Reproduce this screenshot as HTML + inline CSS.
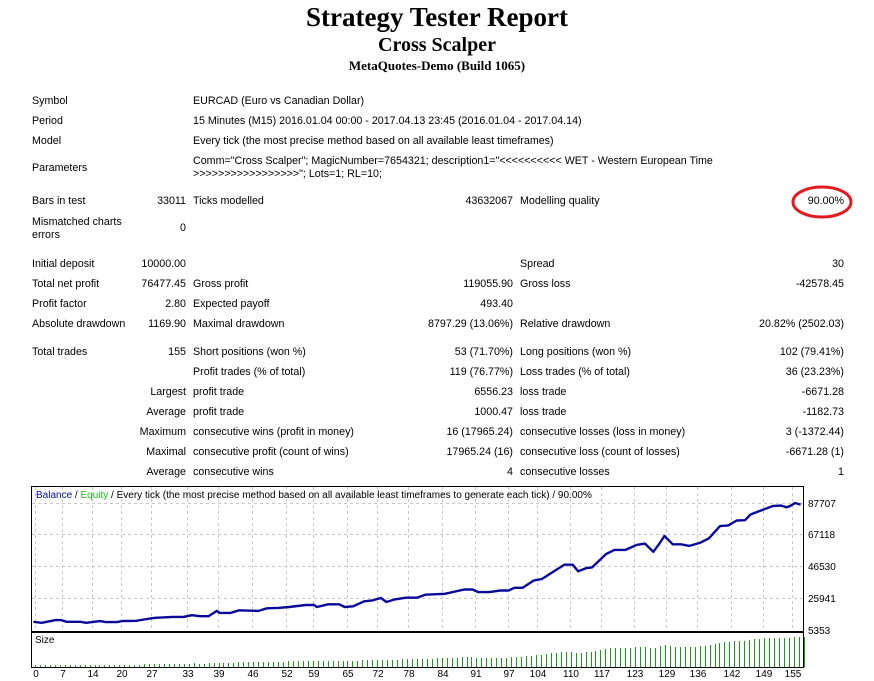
<!DOCTYPE html>
<html><head><meta charset="utf-8">
<style>
body{margin:0;width:874px;height:681px;background:#fff;position:relative;overflow:hidden;font-family:"Liberation Sans",sans-serif;font-size:10.7px;color:#000}
.t{position:absolute;white-space:nowrap;line-height:13px}
.r{text-align:right}
.h{position:absolute;left:0;width:874px;text-align:center;font-family:"Liberation Serif",serif;font-weight:bold;white-space:nowrap}
</style></head><body>
<div class="h" style="top:2px;font-size:27px;line-height:30px">Strategy Tester Report</div>
<div class="h" style="top:34px;font-size:20px;line-height:22px">Cross Scalper</div>
<div class="h" style="top:58px;font-size:13px;line-height:15px">MetaQuotes-Demo (Build 1065)</div>
<div id="tbl"></div>
<svg style="position:absolute;left:0;top:0" width="874" height="681">
<ellipse cx="822" cy="202" rx="29" ry="15" fill="none" stroke="#e21b23" stroke-width="3"/>
<g id="ch"></g>
</svg>
<script>
var T=document.getElementById('tbl'),h='';
function L(x,y,s){h+='<div class="t" style="left:'+x+'px;top:'+(y-6)+'px">'+s+'</div>';}
function R(x,y,s){h+='<div class="t r" style="right:'+(874-x)+'px;top:'+(y-6)+'px">'+s+'</div>';}
L(32,101,'Symbol');L(193,101,'EURCAD (Euro vs Canadian Dollar)');
L(32,121,'Period');L(193,121,'15 Minutes (M15) 2016.01.04 00:00 - 2017.04.13 23:45 (2016.01.04 - 2017.04.14)');
L(32,141,'Model');L(193,141,'Every tick (the most precise method based on all available least timeframes)');
L(32,168,'Parameters');L(193,161,'Comm="Cross Scalper"; MagicNumber=7654321; description1="&lt;&lt;&lt;&lt;&lt;&lt;&lt;&lt;&lt;&lt; WET - Western European Time');
L(193,174,'&gt;&gt;&gt;&gt;&gt;&gt;&gt;&gt;&gt;&gt;&gt;&gt;&gt;&gt;&gt;&gt;&gt;"; Lots=1; RL=10;');
L(32,201,'Bars in test');R(186,201,'33011');L(193,201,'Ticks modelled');R(513,201,'43632067');L(520,201,'Modelling quality');R(844,201,'90.00%');
L(32,222,'Mismatched charts');L(32,235,'errors');R(186,228,'0');
L(32,264,'Initial deposit');R(186,264,'10000.00');L(520,264,'Spread');R(844,264,'30');
L(32,284,'Total net profit');R(186,284,'76477.45');L(193,284,'Gross profit');R(513,284,'119055.90');L(520,284,'Gross loss');R(844,284,'-42578.45');
L(32,304,'Profit factor');R(186,304,'2.80');L(193,304,'Expected payoff');R(513,304,'493.40');
L(32,324,'Absolute drawdown');R(186,324,'1169.90');L(193,324,'Maximal drawdown');R(513,324,'8797.29 (13.06%)');L(520,324,'Relative drawdown');R(844,324,'20.82% (2502.03)');
L(32,352,'Total trades');R(186,352,'155');L(193,352,'Short positions (won %)');R(513,352,'53 (71.70%)');L(520,352,'Long positions (won %)');R(844,352,'102 (79.41%)');
L(193,372,'Profit trades (% of total)');R(513,372,'119 (76.77%)');L(520,372,'Loss trades (% of total)');R(844,372,'36 (23.23%)');
R(186,392,'Largest');L(193,392,'profit trade');R(513,392,'6556.23');L(520,392,'loss trade');R(844,392,'-6671.28');
R(186,412,'Average');L(193,412,'profit trade');R(513,412,'1000.47');L(520,412,'loss trade');R(844,412,'-1182.73');
R(186,432,'Maximum');L(193,432,'consecutive wins (profit in money)');R(513,432,'16 (17965.24)');L(520,432,'consecutive losses (loss in money)');R(844,432,'3 (-1372.44)');
R(186,452,'Maximal');L(193,452,'consecutive profit (count of wins)');R(513,452,'17965.24 (16)');L(520,452,'consecutive loss (count of losses)');R(844,452,'-6671.28 (1)');
R(186,472,'Average');L(193,472,'consecutive wins');R(513,472,'4');L(520,472,'consecutive losses');R(844,472,'1');
T.innerHTML=h;
var g='';
g+='<rect x="31.5" y="486.5" width="772" height="145" fill="#fff" stroke="#000"/>';
g+='<rect x="31.5" y="632.5" width="772" height="35" fill="#fff" stroke="#000"/>';
var xl=[0,7,14,20,27,33,39,46,52,59,65,72,78,84,91,97,104,110,117,123,129,136,142,149,155];
var xs=[35,62,92,121,151,187,218,252,286,313,347,377,408,442,475,508,537,570,601,634,666,697,731,763,792];
for(var i=0;i<xs.length;i++){g+='<line x1="'+(xs[i]+.5)+'" y1="487" x2="'+(xs[i]+.5)+'" y2="631" stroke="#c8c8c8" stroke-dasharray="3,3"/>';
g+='<text x="'+(xs[i]+1)+'" y="677" font-size="10">'+xl[i]+'</text>'.replace('<text','<text');}
g=g.replace(/<text x="([\d.]+)" y="677" font-size="10">/g,'<text x="$1" y="677" font-size="10" text-anchor="middle">');
var yl=[[503,'87707'],[534,'67118'],[566,'46530'],[598,'25941'],[630,'5353']];
for(i=0;i<yl.length;i++){if(i<4)g+='<line x1="32" y1="'+(yl[i][0]+.5)+'" x2="803" y2="'+(yl[i][0]+.5)+'" stroke="#c8c8c8" stroke-dasharray="3,3"/>';
g+='<text x="808" y="'+(yl[i][0]+4)+'" font-size="10">'+yl[i][1]+'</text>';}
var p=[60,425,75,428,100,420,110,420,120,425,145,425,155,428,180,423,190,426,210,426,220,423,245,422,270,415,280,413,310,410,330,410,345,405,360,408,375,408,390,392,395,398,415,398,430,390,465,392,480,384,500,383,520,380,550,374,565,374,570,380,590,372,610,372,620,380,635,378,655,363,670,360,685,353,695,365,710,357,730,352,750,352,765,343,800,340,835,327,850,327,860,335,880,335,900,330,915,330,925,322,940,322,960,300,975,295,1000,268,1015,252,1030,252,1040,272,1055,262,1065,260,1090,220,1105,207,1125,207,1145,192,1160,188,1175,213,1185,190,1195,165,1210,190,1225,190,1240,195,1260,185,1275,172,1295,135,1310,133,1325,118,1340,117,1350,100,1365,90,1390,74,1405,73,1415,78,1420,75,1430,65,1440,70];
var X=[],Y=[],pts='';
for(i=0;i<p.length;i+=2){X.push(p[i]*0.556);Y.push(503+(p[i+1]-65)*0.33);pts+=(p[i]*0.556).toFixed(1)+','+(503+(p[i+1]-65)*0.33).toFixed(1)+' ';}
g+='<polyline points="'+pts+'" fill="none" stroke="#0a0a9a" stroke-width="2.4" stroke-linejoin="round"/>';
function yat(x){for(var k=1;k<X.length;k++)if(X[k]>=x)return Y[k-1]+(Y[k]-Y[k-1])*(x-X[k-1])/(X[k]-X[k-1]);return Y[Y.length-1];}
for(i=0;i<=155;i++){var bx=Math.round(35+i*4.96)+.5;var hh=Math.max(2,Math.round(2+(622-yat(bx))/(622-503)*28));
g+='<line x1="'+bx+'" y1="667" x2="'+bx+'" y2="'+(667-hh)+'" stroke="#1a9a1a"/>';}
g+='<text x="35" y="643" font-size="10">Size</text>';
g+='<text x="36" y="498" font-size="10"><tspan fill="#0a0a9a">Balance</tspan> / <tspan fill="#1fc01f">Equity</tspan> / Every tick (the most precise method based on all available least timeframes to generate each tick) / 90.00%</text>';
document.getElementById('ch').innerHTML=g;
</script>
</body></html>
